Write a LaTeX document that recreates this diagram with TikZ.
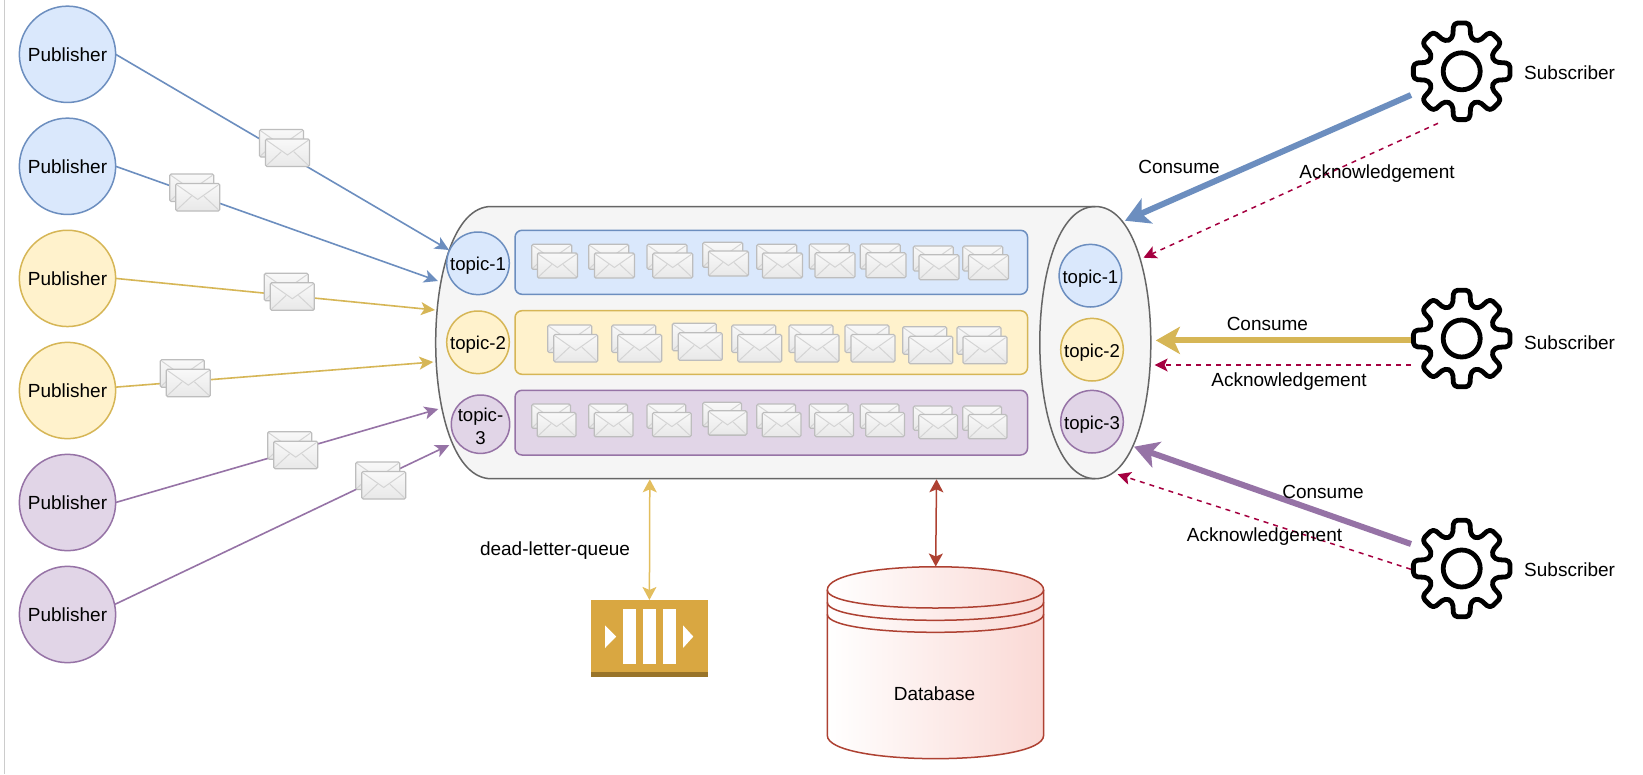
\documentclass[tikz,border=0pt]{standalone}
\usepackage{fontspec}
\setmainfont{Liberation Sans}
\usetikzlibrary{arrows.meta}
\definecolor{bluef}{HTML}{DAE8FC}\definecolor{blues}{HTML}{6C8EBF}
\definecolor{yelf}{HTML}{FFF2CC}\definecolor{yels}{HTML}{D6B656}
\definecolor{purf}{HTML}{E1D5E7}\definecolor{purs}{HTML}{9673A6}
\definecolor{grayf}{HTML}{F5F5F5}\definecolor{grays}{HTML}{666666}
\definecolor{crim}{HTML}{A50040}\definecolor{dbs}{HTML}{AE4132}\definecolor{dbf}{HTML}{FAD9D5}
\definecolor{qmain}{HTML}{D9A741}\definecolor{qdark}{HTML}{997429}
\definecolor{envs}{HTML}{BDBDBD}\definecolor{envl}{HTML}{D4D4D4}
\definecolor{dlqs}{HTML}{E3BE5E}
\tikzset{
  every node/.style={font=\fontsize{19}{22.7}\selectfont,text=black,inner sep=0pt,outer sep=0pt},
  pub/.style={circle,draw=#1s,fill=#1f,line width=1.5pt,minimum size=96.3pt},
  topicnode/.style={circle,draw=#1s,fill=#1f,line width=1.5pt,minimum size=62.6pt,font=\fontsize{18.6}{22.7}\selectfont,align=center},
  topictext/.style={text height=17pt,text depth=2pt},
  lane/.style={draw=#1s,fill=#1f,line width=1.5pt,rounded corners=7pt},
  publine/.style={draw=#1s,line width=1.6pt,-{Stealth[length=14pt,width=13pt,inset=3.5pt]}},
  consume/.style={draw=#1s,line width=6pt,-{Stealth[length=24pt,width=27pt,inset=6pt]}},
  ack/.style={draw=crim,line width=1.5pt,dash pattern=on 5pt off 5pt,-{Stealth[length=13pt,width=13pt,inset=3pt]}},
  dbl/.style={draw=#1,line width=1.5pt,{Stealth[length=13pt,width=14pt,inset=3pt]}-{Stealth[length=13pt,width=14pt,inset=3pt]}},
  envbox/.style={draw=envs,line width=1.3pt,rounded corners=1.5pt,top color=white!95!gray,bottom color=black!9},
  envflap/.style={draw=envl,line width=1pt},
  gearline/.style={draw=black,line width=4.8pt,line join=round},
}
% one envelope: x y w h
\newcommand\envone[4]{%
  \draw[envbox] (#1,#2) rectangle ({#1+#3},{#2+#4});
  \draw[envflap] ({#1+1.5},{#2+1.5}) -- ({#1+#3/2},{#2+.58*#4}) -- ({#1+#3-1.5},{#2+1.5});
  \draw[envflap] ({#1+1.5},{#2+#4-1.5}) -- ({#1+.36*#3},{#2+.46*#4});
  \draw[envflap] ({#1+#3-1.5},{#2+#4-1.5}) -- ({#1+.64*#3},{#2+.46*#4});
}
% pair of envelopes: x y w h dx dy
\newcommand\envpair[6]{%
  \envone{#1}{#2}{#3}{#4}
  \envone{\fpeval{#1+#5}}{\fpeval{#2+#6}}{#3}{#4}
}
\newcommand\gearat[3]{%
  \coordinate (#1) at (#2,#3);
  \begin{scope}[shift={(#1)}]
    \draw[gearline,rounded corners=4.2pt] (-15.5:34) -- (-9.5:49)
      -- (9.5:49) -- (15.5:34)
      \foreach \a in {45,90,...,315}{ -- ({\a-15.5}:34) -- ({\a-9.5}:49) -- ({\a+9.5}:49) -- ({\a+15.5}:34) } -- cycle;
    \draw[gearline] (0,0) circle (18.5);
  \end{scope}
}
\begin{document}
\begin{tikzpicture}[x=1pt,y=-1pt]
\useasboundingbox (0,0) rectangle (1643,774);
\fill[white] (0,0) rectangle (1643,774);
\coordinate (edgetop) at (4.5,0); \coordinate (edgebot) at (4.5,774);
\draw[black!20,line width=1pt] (edgetop) -- (edgebot);

% broker cylinder
\draw[fill=grayf,draw=grays,line width=1.5pt]
  (491.2,206.5) -- (1095.3,206.5)
  .. controls (1169.3,206.5) and (1169.3,478.7) .. (1095.3,478.7)
  -- (491.2,478.7)
  .. controls (417.2,478.7) and (417.2,206.5) .. (491.2,206.5) -- cycle;
\draw[draw=grays,line width=1.5pt]
  (1095.3,206.5) .. controls (1021.3,206.5) and (1021.3,478.7) .. (1095.3,478.7);

% lanes
\draw[lane=blue] (515,230.3) rectangle (1027.6,294.3);
\draw[lane=yel]  (515,310.7) rectangle (1027.6,374.3);
\draw[lane=pur]  (515,390.3) rectangle (1027.6,455);

% topics
\node[topicnode=blue,topictext] (tl1) at (478,263.3) {topic-1};
\node[topicnode=yel,topictext]  (tl2) at (478,342.3) {topic-2};
\node[topicnode=pur,minimum size=58.4pt,label={[font=\fontsize{18.6}{22.7}\selectfont,align=center,yshift=-2pt]center:topic-\\3}] (tl3) at (480.5,424.2) {};
\node[topicnode=blue,topictext] (tr1) at (1090.4,275.7) {topic-1};
\node[topicnode=yel,topictext]  (tr2) at (1092,349.7) {topic-2};
\node[topicnode=pur,topictext]  (tr3) at (1092,421.7) {topic-3};

% lane envelopes
\foreach \x/\y in {531.7/244.3,588.7/244.3,647/244.3,702.7/242.3,756.7/244.3,809.3/244,860.3/244,913.3/246,962.7/246}
  {\envpair{\x}{\y}{40}{25}{5.7}{8.7}}
\foreach \x/\y in {547.7/325,611.7/325,672.3/323.3,731.7/325,789/325,845/325,902.7/326.7,957/326.7}
  {\envpair{\x}{\y}{44}{27.5}{6}{9.5}}
\foreach \x/\y in {531.7/404,588.7/404,647/404,702.7/402.3,756.7/404,809.3/404,860.3/404,913.3/406,962.7/406}
  {\envpair{\x}{\y}{38.7}{24.3}{5.5}{8.5}}

% publishers
\node[pub=blue] (p1) at (67.5,54.3) {Publisher};
\node[pub=blue] (p2) at (67.5,166.3) {Publisher};
\node[pub=yel]  (p3) at (67.5,278.4) {Publisher};
\node[pub=yel]  (p4) at (67.5,390.5) {Publisher};
\node[pub=pur]  (p5) at (67.5,502.5) {Publisher};
\node[pub=pur]  (p6) at (67.5,614.5) {Publisher};
\coordinate (a1) at (449,250);
\coordinate (a2) at (438,281);
\coordinate (a3) at (435,310);
\coordinate (a4) at (433.3,362);
\coordinate (a5) at (438.3,409);
\coordinate (a6) at (449.3,445);
\draw[publine=blue] (p1.east) -- (a1);
\draw[publine=blue] (p2.east) -- (a2);
\draw[publine=yel]  (p3.east) -- (a3);
\draw[publine=yel]  (p4.4) -- (a4);
\draw[publine=pur]  (p5.east) -- (a5);
\draw[publine=pur]  (p6.12) -- (a6);

% travelling envelopes
\envpair{259.5}{129.5}{44}{27.5}{6}{9.5}
\envpair{169.7}{174}{44}{27.5}{6}{9.5}
\envpair{264.3}{273.3}{44}{27.5}{6}{9.5}
\envpair{160.3}{359.7}{44}{27.5}{6}{9.5}
\envpair{267.7}{431.7}{44}{27.5}{6}{9.5}
\envpair{355.7}{462}{44}{27.5}{6}{9.5}

% subscribers
\gearat{g1}{1461.7}{71.3}
\gearat{g2}{1461.7}{338.5}
\gearat{g3}{1461.7}{568.5}
\node (s1) at (1569.6,72.3) {Subscriber};
\node (s2) at (1569.6,342.7) {Subscriber};
\node (s3) at (1569.6,569.3) {Subscriber};

\coordinate (c1a) at (1411,95);   \coordinate (c1b) at (1125,220.7);
\coordinate (c2a) at (1411,340.4);  \coordinate (c2b) at (1155.8,340.4);
\coordinate (c3a) at (1411,544);  \coordinate (c3b) at (1134,446.7);
\draw[consume=blue] (c1a) -- (c1b);
\draw[consume=yel]  (c2a) -- (c2b);
\draw[consume=pur]  (c3a) -- (c3b);
\coordinate (k1a) at (1438,123.3);  \coordinate (k1b) at (1143.5,257.7);
\coordinate (k2a) at (1411,365);    \coordinate (k2b) at (1154.6,365);
\coordinate (k3a) at (1411,569.3);  \coordinate (k3b) at (1117.7,474.3);
\draw[ack] (k1a) -- (k1b);
\draw[ack] (k2a) -- (k2b);
\draw[ack] (k3a) -- (k3b);

\node (lc1) at (1179,166.7) {Consume};
\node (lk1) at (1377,173.7) {Acknowledgement};
\node (lc2) at (1267.4,324.3) {Consume};
\node (lk2) at (1289,381.3) {Acknowledgement};
\node (lc3) at (1323,491.7) {Consume};
\node (lk3) at (1264.5,537) {Acknowledgement};

% dead letter queue
\node[rectangle,fill=qmain,minimum width=117.8pt,minimum height=76.7pt] (dlq) at (649.4,638.3) {};
\fill[qdark] (590.5,671.7) rectangle (708.3,676.7);
\fill[white] (622.9,609.3) rectangle (636,663.7);
\fill[white] (643,609.3) rectangle (655.7,663.7);
\fill[white] (662.8,609.3) rectangle (675.5,663.7);
\fill[white] (605,625.3) -- (616.2,636.6) -- (605,648) -- cycle;
\fill[white] (683,625.3) -- (693.3,636.6) -- (683,648) -- cycle;
\coordinate (dlqtop) at (649.8,479.3);
\draw[dbl=dlqs] (dlqtop) -- (dlq.north);
\node (ldlq) at (555,550.7) {dead-letter-queue};

% database
\draw[draw=dbs,line width=1.5pt,left color=white,right color=dbf]
  (827.3,590) .. controls (827.3,559) and (1043.6,559) .. (1043.6,590)
  -- (1043.6,735.4)
  .. controls (1043.6,766.4) and (827.3,766.4) .. (827.3,735.4) -- cycle;
\draw[draw=dbs,line width=1.5pt] (827.3,590) .. controls (827.3,614) and (1043.6,614) .. (1043.6,590);
\draw[draw=dbs,line width=1.5pt] (827.3,602.3) .. controls (827.3,626.3) and (1043.6,626.3) .. (1043.6,602.3);
\draw[draw=dbs,line width=1.5pt] (827.3,614.3) .. controls (827.3,638.3) and (1043.6,638.3) .. (1043.6,614.3);
\coordinate (dbtop) at (936.5,479.3);
\coordinate (dbbot) at (935.7,566.5);
\draw[dbl=dbs] (dbtop) -- (dbbot);
\node (ldb) at (934.5,693.3) {Database};
\end{tikzpicture}
\end{document}
